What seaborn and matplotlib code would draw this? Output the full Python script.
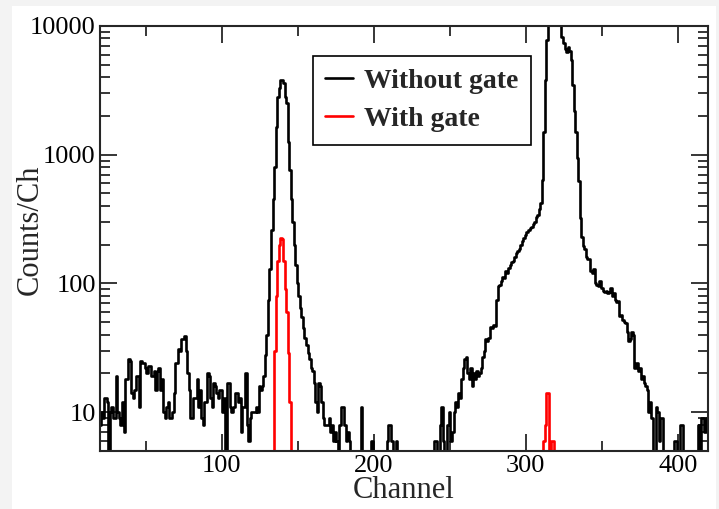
import numpy as np
import pandas as pd
import seaborn as sns
import matplotlib.pyplot as plt
from matplotlib.patches import Rectangle
from matplotlib.ticker import MultipleLocator, LogLocator, NullFormatter

# channel axis, one bin per channel
channels = list(range(20, 420))

# counts per channel, no gate
without_gate = [
    8, 10, 9, 13, 13, 12, 0, 10, 11, 9,                       # 20
    9, 19, 10, 9, 8, 12, 7, 18, 18, 26,                       # 30
    25, 14, 13, 15, 19, 19, 11, 25, 24, 24,                   # 40
    22, 20, 23, 23, 19, 19, 21, 15, 21, 22,                   # 50
    15, 18, 10, 9, 11, 12, 9, 9, 10, 14,                      # 60
    24, 24, 31, 30, 37, 37, 39, 30, 20, 15,                   # 70
    9, 9, 13, 13, 18, 11, 15, 9, 8, 12,                       # 80
    12, 20, 19, 13, 11, 17, 16, 14, 13, 15,                   # 90
    15, 10, 13, 0, 17, 17, 11, 10, 11, 14,                    # 100
    14, 12, 13, 7, 11, 11, 20, 8, 6, 9,                       # 110
    10, 10, 10, 11, 10, 16, 15, 16, 19, 28,                   # 120
    40, 75, 130, 260, 450, 800, 1650, 2800, 3300, 3800,       # 130
    3800, 3600, 2800, 2500, 1250, 760, 450, 300, 200, 140,    # 140
    100, 80, 65, 55, 45, 38, 33, 29, 26, 22,                  # 150
    21, 17, 12, 10, 17, 16, 12, 9, 8, 8,                      # 160
    8, 9, 7, 8, 6, 7, 6, 0, 8, 11,                            # 170
    11, 8, 6, 7, 6, 0, 0, 0, 0, 0,                            # 180
    0, 0, 11, 0, 0, 0, 0, 0, 0, 6,                            # 190
    0, 0, 0, 0, 0, 0, 0, 0, 0, 6,                             # 200
    8, 8, 6, 0, 0, 6, 0, 0, 0, 0,                             # 210
    0, 0, 0, 0, 0, 0, 0, 0, 0, 0,                             # 220
    0, 0, 0, 0, 0, 0, 0, 0, 0, 0,                             # 230
    6, 6, 0, 0, 8, 11, 6, 0, 0, 8,                            # 240
    10, 6, 7, 10, 12, 11, 14, 13, 18, 22,                     # 250
    26, 27, 20, 18, 22, 16, 20, 18, 21, 19,                   # 260
    20, 22, 27, 30, 37, 36, 38, 46, 45, 48,                   # 270
    47, 75, 95, 98, 105, 112, 110, 125, 120, 132,             # 280
    140, 148, 150, 160, 172, 180, 185, 200, 215, 225,         # 290
    240, 250, 262, 270, 275, 290, 300, 330, 340, 380,         # 300
    420, 640, 1500, 3800, 7800, 12000, 15000, 18000, 20000, 19000,  # 310
    17000, 15000, 14000, 12000, 8200, 7400, 6600, 6300, 6900, 6400,  # 320
    5400, 3500, 2200, 1500, 950, 620, 320, 230, 195, 185,     # 330
    160, 155, 155, 125, 120, 130, 100, 98, 95, 105,           # 340
    92, 88, 86, 88, 84, 86, 92, 80, 85, 74,                   # 350
    72, 73, 56, 57, 52, 50, 49, 42, 36, 37,                   # 360
    42, 40, 22, 24, 21, 22, 18, 19, 17, 16,                   # 370
    15, 10, 12, 9, 0, 0, 11, 10, 6, 9,                        # 380
    9, 0, 0, 0, 0, 0, 0, 0, 6, 6,                             # 390
    0, 0, 8, 8, 0, 0, 0, 0, 0, 0,                             # 400
    0, 0, 0, 0, 8, 0, 9, 9, 7, 9,                             # 410
]

# gated spectrum, only the channels where something shows
gate_channels = [134, 135, 136, 137, 138, 139, 140, 141, 142, 143, 144, 145, 146,
                 311, 312, 313, 314, 315, 316, 317, 318, 319]
with_gate = [0, 30, 80, 150, 200, 225, 220, 150, 90, 60, 29, 12, 0,
             0, 6, 8, 14, 14, 0, 6, 6, 0]

y_ticks = [10, 100, 1000, 10000]
y_labels = ["10", "100", "1000", "10000"]

sns.set_style("ticks")
plt.rcParams['font.family'] = ['Liberation Serif', 'DejaVu Serif']

fig = plt.figure(figsize=(7.19, 5.09), dpi=100, facecolor='#f3f3f3')
# white page on the grey screenshot border
fig.patches.append(Rectangle((12 / 719, 0), 704 / 719, 503 / 509,
                             transform=fig.transFigure, facecolor='white',
                             edgecolor='none', zorder=-10))
ax = fig.add_axes([0.139, 0.114, 0.846, 0.835])
ax.set_zorder(1)

df_all = pd.DataFrame({"Channel": channels, "Counts": without_gate})
df_gate = pd.DataFrame({"Channel": gate_channels, "Counts": with_gate})

sns.lineplot(data=df_all, x="Channel", y="Counts", ax=ax, color="black",
             lw=1.9, drawstyle="steps-mid", estimator=None, label="Without gate")
sns.lineplot(data=df_gate, x="Channel", y="Counts", ax=ax, color="red",
             lw=1.9, drawstyle="steps-mid", estimator=None, label="With gate")

# log scale after plotting so the empty channels drop to the floor
ax.set_yscale("log", nonpositive="clip")
ax.set_ylim(5, 10000)
ax.set_xlim(20, 420)

ax.xaxis.set_major_locator(MultipleLocator(100))
ax.xaxis.set_minor_locator(MultipleLocator(50))
ax.set_yticks(y_ticks, labels=y_labels)
ax.yaxis.set_minor_locator(LogLocator(base=10, subs=np.arange(2, 10)))
ax.yaxis.set_minor_formatter(NullFormatter())

ax.tick_params(which="both", direction="in", top=True, right=True,
               labelsize=19, width=1.1, colors="black")
ax.tick_params(which="major", length=12, pad=3)
ax.tick_params(which="minor", length=7)
for s in ax.spines.values():
    s.set_linewidth(1.5)

ax.set_xlabel("Channel", fontsize=22)
ax.set_ylabel("Counts/Ch", fontsize=22)
ax.xaxis.set_label_coords(0.5, -0.06)
ax.yaxis.set_label_coords(-0.09, 0.52)

leg = ax.legend(loc="upper left", bbox_to_anchor=(0.35, 0.929), borderaxespad=0,
                frameon=True, fancybox=False, edgecolor="black", framealpha=1,
                prop={"family": "Liberation Serif", "weight": "bold", "size": 20},
                handlelength=1.0, handletextpad=0.4, borderpad=0.45, labelspacing=0.45)
leg.get_frame().set_linewidth(1.2)

fig.savefig("out.png", dpi=100, facecolor=fig.get_facecolor())
